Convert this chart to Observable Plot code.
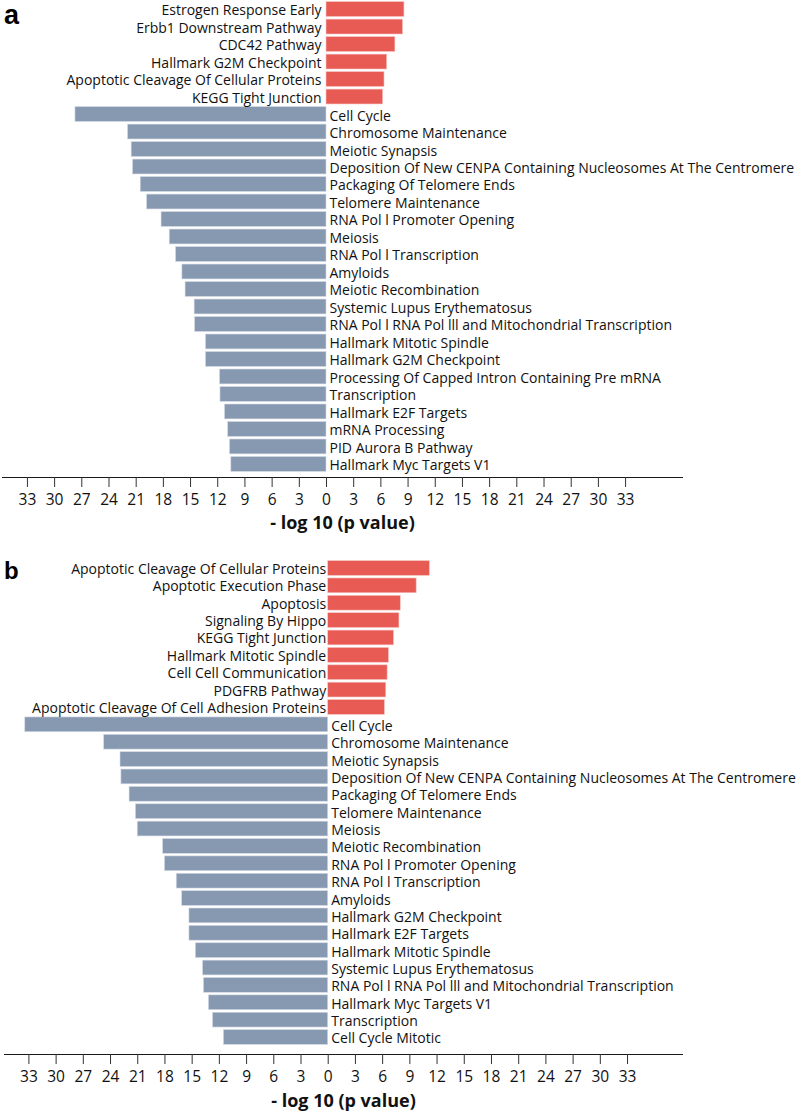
<!DOCTYPE html>
<html><head><meta charset="utf-8">
<script src="https://cdn.jsdelivr.net/npm/d3@7"></script>
<script src="https://cdn.jsdelivr.net/npm/@observablehq/plot@0.6"></script>
<style>
body{margin:0;background:#fff;}
#wrap{position:relative;width:800px;height:1111px;overflow:hidden;}
#wrap svg{display:block;}
.letter{position:absolute;font-family:"Liberation Sans",Arial,sans-serif;font-weight:bold;color:#000;line-height:1;}
svg [aria-label="x-axis label"]{font-weight:bold;font-size:18px;fill:#111;}
svg [aria-label="x-axis tick label"]{font-size:15.5px;fill:#111;}
svg [aria-label="x-axis tick"]{stroke:#333;}
</style></head><body><div id="wrap"></div><script>
// Panel a
const upA_labels = ["Estrogen Response Early","Erbb1 Downstream Pathway","CDC42 Pathway","Hallmark G2M Checkpoint","Apoptotic Cleavage Of Cellular Proteins","KEGG Tight Junction"];
const upA_values = [8.6, 8.45, 7.6, 6.7, 6.4, 6.25];
const downA_labels = ["Cell Cycle","Chromosome Maintenance","Meiotic Synapsis","Deposition Of New CENPA Containing Nucleosomes At The Centromere","Packaging Of Telomere Ends","Telomere Maintenance","RNA Pol l Promoter Opening","Meiosis","RNA Pol l Transcription","Amyloids","Meiotic Recombination","Systemic Lupus Erythematosus","RNA Pol l RNA Pol lll and Mitochondrial Transcription","Hallmark Mitotic Spindle","Hallmark G2M Checkpoint","Processing Of Capped Intron Containing Pre mRNA","Transcription","Hallmark E2F Targets","mRNA Processing","PID Aurora B Pathway","Hallmark Myc Targets V1"];
const downA_values = [27.7, 21.9, 21.5, 21.35, 20.5, 19.8, 18.2, 17.3, 16.6, 15.9, 15.55, 14.55, 14.5, 13.3, 13.3, 11.75, 11.7, 11.2, 10.85, 10.65, 10.5];
// Panel b
const upB_labels = ["Apoptotic Cleavage Of Cellular Proteins","Apoptotic Execution Phase","Apoptosis","Signaling By Hippo","KEGG Tight Junction","Hallmark Mitotic Spindle","Cell Cell Communication","PDGFRB Pathway","Apoptotic Cleavage Of Cell Adhesion Proteins"];
const upB_values = [11.2, 9.75, 8.0, 7.85, 7.25, 6.7, 6.55, 6.4, 6.25];
const downB_labels = ["Cell Cycle","Chromosome Maintenance","Meiotic Synapsis","Deposition Of New CENPA Containing Nucleosomes At The Centromere","Packaging Of Telomere Ends","Telomere Maintenance","Meiosis","Meiotic Recombination","RNA Pol l Promoter Opening","RNA Pol l Transcription","Amyloids","Hallmark G2M Checkpoint","Hallmark E2F Targets","Hallmark Mitotic Spindle","Systemic Lupus Erythematosus","RNA Pol l RNA Pol lll and Mitochondrial Transcription","Hallmark Myc Targets V1","Transcription","Cell Cycle Mitotic"];
const downB_values = [33.4, 24.7, 22.9, 22.8, 21.9, 21.2, 21.0, 18.2, 18.0, 16.7, 16.1, 15.3, 15.3, 14.6, 13.8, 13.7, 13.15, 12.7, 11.5];
// axis ticks (signed; shown as absolute values)
const tickValues = [-33,-30,-27,-24,-21,-18,-15,-12,-9,-6,-3,0,3,6,9,12,15,18,21,24,27,30,33];
const axisTitle = "- log 10 (p value)";

const RED = "#e85b55";
const BLUE = "#8798b1";

function panel(upLabels, upValues, downLabels, downValues, o) {
  const up = upLabels.map((name, i) => ({key: "u" + i, name, value: upValues[i]}));
  const down = downLabels.map((name, i) => ({key: "d" + i, name, value: -downValues[i]}));
  const keys = [...up, ...down].map(d => d.key);
  return Plot.plot({
    width: 800, height: o.height,
    marginLeft: o.ml, marginRight: 118, marginTop: 0, marginBottom: o.mb,
    style: {fontFamily: "'Open Sans', sans-serif", fontSize: "15px", color: "#1a1a1a", background: "white", overflow: "visible"},
    x: {domain: o.xdom, ticks: tickValues, tickFormat: d => Math.abs(d), tickSize: 10, tickPadding: 6,
        line: true, label: axisTitle, labelAnchor: "center", labelOffset: o.lo, labelArrow: "none"},
    y: {domain: keys, range: o.yr, padding: 0.15, round: false, axis: null},
    marks: [
      Plot.barX(up, {x1: 0, x2: "value", y: "key", fill: RED, stroke: "#f6c3c1", strokeWidth: 0.6}),
      Plot.barX(down, {x1: 0, x2: "value", y: "key", fill: BLUE, stroke: "#d3dae4", strokeWidth: 0.6}),
      Plot.text(up, {x: 0, y: "key", text: "name", textAnchor: "end", dx: o.udx, dy: 1, fontSize: 14, fill: "#111"}),
      Plot.text(down, {x: 0, y: "key", text: "name", textAnchor: "start", dx: 3, dy: 1.5, fontSize: 14, fill: "#111"})
    ]
  });
}

const wrap = document.getElementById("wrap");
wrap.append(panel(upA_labels, upA_values, downA_labels, downA_values,
  {height: 535, mb: 58, ml: 2, xdom: [-35.75, 39.28], yr: [-1, 474], lo: 51, udx: -5}));
wrap.append(panel(upB_labels, upB_values, downB_labels, downB_values,
  {height: 576, mb: 57, ml: 4, xdom: [-35.69, 39.06], yr: [23, 512], lo: 52, udx: -2}));

const la = document.createElement("div");
la.className = "letter"; la.textContent = "a";
la.style.cssText = "left:4px;top:2px;font-size:27px;";
wrap.append(la);
const lb = document.createElement("div");
lb.className = "letter"; lb.textContent = "b";
lb.style.cssText = "left:4px;top:559px;font-size:24px;";
wrap.append(lb);
</script></body></html>
